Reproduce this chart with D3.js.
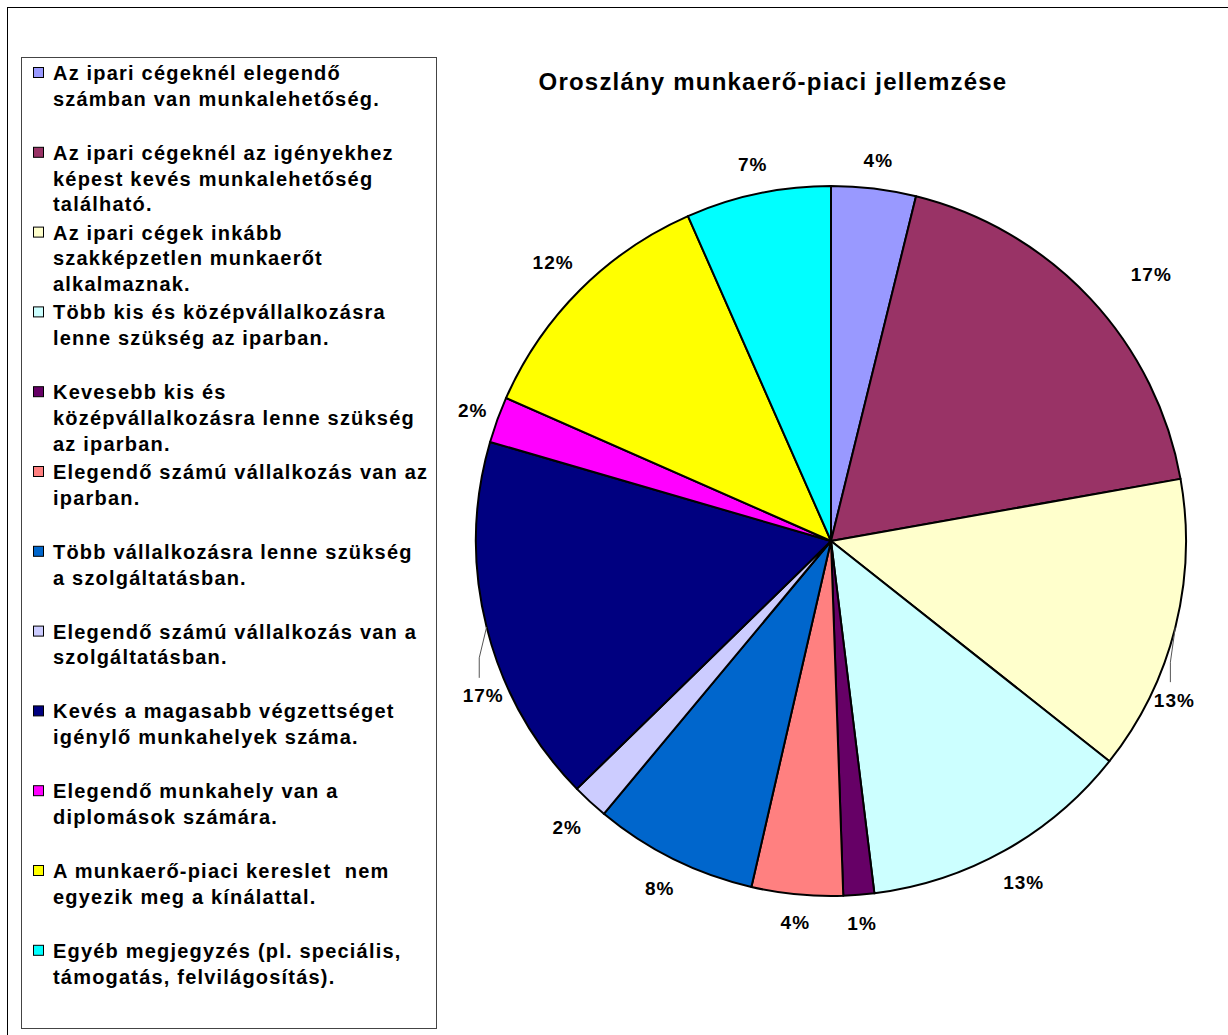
<!DOCTYPE html>
<html>
<head>
<meta charset="utf-8">
<script src="https://cdn.jsdelivr.net/npm/d3@7"></script>
<style>
  body { margin: 0; background: #fff; }
  text { font-family: "Liberation Sans", Arial, sans-serif; font-weight: bold; fill: #000; }
</style>
</head>
<body>
<svg id="chart" width="1228" height="1035"></svg>
<script>
// legend text, wrapped as in the picture
const categories = [
  ["Az ipari cégeknél elegendő", "számban van munkalehetőség."],
  ["Az ipari cégeknél az igényekhez", "képest kevés munkalehetőség", "található."],
  ["Az ipari cégek inkább", "szakképzetlen munkaerőt", "alkalmaznak."],
  ["Több kis és középvállalkozásra", "lenne szükség az iparban."],
  ["Kevesebb kis és", "középvállalkozásra lenne szükség", "az iparban."],
  ["Elegendő számú vállalkozás van az", "iparban."],
  ["Több vállalkozásra lenne szükség", "a szolgáltatásban."],
  ["Elegendő számú vállalkozás van a", "szolgáltatásban."],
  ["Kevés a magasabb végzettséget", "igénylő munkahelyek száma."],
  ["Elegendő munkahely van a", "diplomások számára."],
  ["A munkaerő-piaci kereslet  nem", "egyezik meg a kínálattal."],
  ["Egyéb megjegyzés (pl. speciális,", "támogatás, felvilágosítás)."]
];
// slice shares
const shares = [3.85, 18.35, 13.45, 12.4, 1.4, 4.15, 7.45, 1.65, 16.8, 2.1, 11.8, 6.6];
// label texts as printed on the chart
const pctLabels = ["4%", "17%", "13%", "13%", "1%", "4%", "8%", "2%", "17%", "2%", "12%", "7%"];
const colors = ["#9999FF", "#993366", "#FFFFCC", "#CCFFFF", "#660066", "#FF8080",
                "#0066CC", "#CCCCFF", "#000080", "#FF00FF", "#FFFF00", "#00FFFF"];
const title = "Oroszlány munkaerő-piaci jellemzése";

// labels Excel pushed off their slice: [angle shift in degrees, radius shift]
const labelNudge = [[0,0],[3.2,21],[10.8,-19],[0,0],[0,0],[0,0],[0,0],[0,0],[-9.9,-15],[0,-9],[0,0],[0,0]];
const leader = [false,false,true,false,false,false,false,false,true,false,false,false];

const svg = d3.select("#chart");

// outer chart frame
svg.append("rect")
  .attr("x", 7.5).attr("y", 7.5)
  .attr("width", 1240).attr("height", 1040)
  .attr("fill", "none").attr("stroke", "#000").attr("stroke-width", 1);

// title
svg.append("text")
  .attr("x", 773).attr("y", 90)
  .attr("text-anchor", "middle")
  .style("font-size", "24px")
  .style("letter-spacing", "1.2px")
  .text(title);

// pie
const cx = 831, cy = 541, R = 355;
const g = svg.append("g").attr("transform", "translate(" + cx + "," + cy + ")");

const pie = d3.pie().sort(null).value(d => d);
const arcs = pie(shares);
const arc = d3.arc().innerRadius(0).outerRadius(R);

g.selectAll("path.slice")
  .data(arcs)
  .enter()
  .append("path")
    .attr("class", "slice")
    .attr("d", arc)
    .attr("fill", (d, i) => colors[i])
    .attr("stroke", "#000")
    .attr("stroke-width", 2)
    .attr("stroke-linejoin", "round");

// data labels
const labels = g.selectAll("text.pct")
  .data(arcs)
  .enter()
  .append("text")
    .attr("class", "pct")
    .attr("text-anchor", "middle")
    .attr("dy", "0.35em")
    .style("font-size", "19px")
    .style("letter-spacing", "1px")
    .text((d, i) => pctLabels[i]);

labels.each(function(d, i) {
  const w = this.getComputedTextLength();
  const h = 14;
  const a = (d.startAngle + d.endAngle) / 2 + labelNudge[i][0] * Math.PI / 180;
  const s = Math.sin(a), c = -Math.cos(a);
  const r = R + 20 + Math.abs(s) * w / 2 + Math.abs(c) * h / 2 + labelNudge[i][1];
  const lx = s * r, ly = c * r;
  d3.select(this).attr("x", lx + 1).attr("y", ly);
  if (leader[i]) {
    const ma = (d.startAngle + d.endAngle) / 2;
    const ex = Math.sin(ma) * R, ey = -Math.cos(ma) * R;
    const x0 = lx - 3, y0 = ly - 18;
    g.append("path")
      .attr("d", "M" + x0 + "," + y0 + "L" + x0 + "," + (y0 - 20) + "L" + ex + "," + ey)
      .attr("fill", "none")
      .attr("stroke", "#555")
      .attr("stroke-width", 1);
  }
});

// legend
svg.append("rect")
  .attr("x", 21.5).attr("y", 57.5)
  .attr("width", 415).attr("height", 971)
  .attr("fill", "#fff").attr("stroke", "#444").attr("stroke-width", 1);

const itemY = d3.scalePoint()
  .domain(d3.range(categories.length))
  .range([80, 80 + 79.8 * (categories.length - 1)]);
const lineStep = 25.8;

const items = svg.selectAll("g.item")
  .data(categories)
  .enter()
  .append("g")
    .attr("class", "item")
    .attr("transform", (d, i) => "translate(0," + itemY(i) + ")");

items.append("rect")
  .attr("x", 33.5).attr("y", -12.5)
  .attr("width", 10).attr("height", 10)
  .attr("fill", (d, i) => colors[i])
  .attr("stroke", "#000").attr("stroke-width", 1);

items.each(function(lines) {
  const t = d3.select(this).append("text")
    .style("font-size", "20px")
    .style("letter-spacing", "1.2px")
    .style("white-space", "pre");
  lines.forEach((ln, j) => {
    t.append("tspan").attr("x", 53).attr("y", j * lineStep).text(ln);
  });
});
</script>
</body>
</html>
